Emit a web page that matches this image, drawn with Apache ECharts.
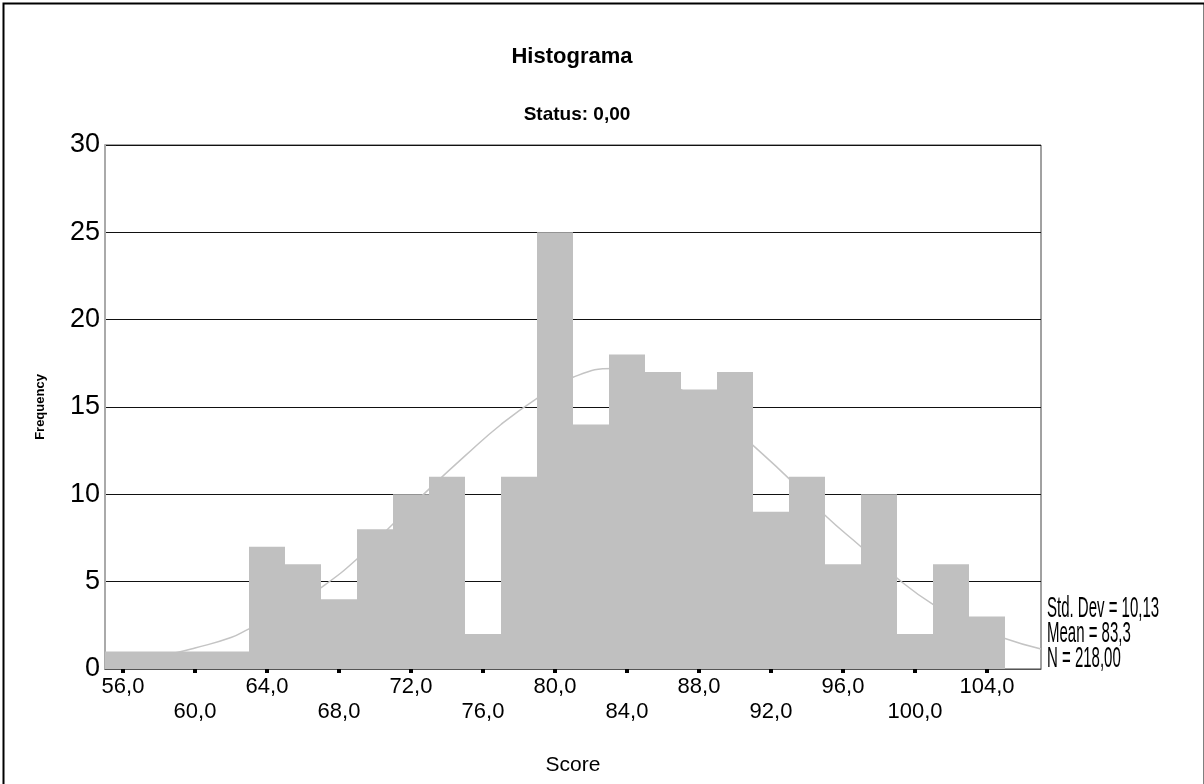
<!DOCTYPE html>
<html>
<head>
<meta charset="utf-8">
<script src="https://cdn.jsdelivr.net/npm/echarts@6/dist/echarts.min.js"></script>
<style>
html,body{margin:0;padding:0;background:#fff;}
#chart{width:1204px;height:784px;}
</style>
</head>
<body>
<div id="chart"></div>
<script>
// ---- data ----
const binCenters = [56,58,60,62,64,66,68,70,72,74,76,78,80,82,84,86,88,90,92,94,96,98,100,102,104,106];
const binCounts  = [1,1,1,1,7,6,4,8,10,11,2,11,25,14,18,17,16,17,9,11,6,10,2,6,3,0];
const binWidth = 2;
const curveX = [55,57,59,60,62,63,65,67.2,69,71,73,75,77,79,81,83.3,85,87,89,91,93,95,97,99,101,103,105,107];
const curveY = [0.35,0.6,0.95,1.2,1.8,2.3,3.3,4.8,6.3,8.3,10.3,12.2,14.0,15.5,16.7,17.2,16.9,16.0,14.6,12.8,10.9,8.8,7.0,5.2,3.7,2.6,1.75,1.15];
const xTickValues = [56,60,64,68,72,76,80,84,88,92,96,100,104];
const titleText = 'Histograma';
const subtitleText = 'Status: 0,00';
const xName = 'Score';
const yName = 'Frequency';
const statLines = ['Std. Dev = 10,13', 'Mean = 83,3', 'N = 218,00'];

const FONT = '"Liberation Sans", Arial, sans-serif';
const chart = echarts.init(document.getElementById('chart'), null, {renderer: 'canvas'});

const histData = binCenters.map((c, i) => [c, binCounts[i]]);
const curveData = curveX.map((x, i) => [x, curveY[i]]);

chart.setOption({
  animation: false,
  backgroundColor: '#fff',
  title: [
    {text: titleText, left: 567, top: 41, textAlign: 'center',
     textStyle: {fontFamily: FONT, fontSize: 22, fontWeight: 'bold', color: '#000'}},
    {text: subtitleText, left: 572, top: 100, textAlign: 'center',
     textStyle: {fontFamily: FONT, fontSize: 19, fontWeight: 'bold', color: '#000'}}
  ],
  grid: {left: 105, right: 163, top: 145, bottom: 115, show: true, borderColor: '#444', borderWidth: 1, backgroundColor: 'transparent'},
  xAxis: {
    type: 'value', min: 55, max: 107,
    name: xName, nameLocation: 'middle', nameGap: 86,
    nameTextStyle: {fontFamily: FONT, fontSize: 21, color: '#000'},
    axisLine: {show: true, onZero: false, lineStyle: {color: '#555', width: 1}},
    axisTick: {show: true, customValues: xTickValues, length: 4, lineStyle: {color: '#000', width: 4}},
    splitLine: {show: false},
    axisLabel: {
      customValues: xTickValues, margin: 5,
      fontFamily: FONT, fontSize: 22, color: '#000', lineHeight: 25,
      formatter: function (v) {
        const s = v.toFixed(1).replace('.', ',');
        const idx = Math.round((v - 56) / 4);
        return idx % 2 === 1 ? '\n' + s : s;
      }
    }
  },
  yAxis: {
    type: 'value', min: 0, max: 30, interval: 5,
    name: yName, nameLocation: 'middle', nameGap: 58, nameRotate: 90,
    nameTextStyle: {fontFamily: FONT, fontSize: 13, fontWeight: 'bold', color: '#000'},
    axisLine: {show: true, lineStyle: {color: '#aaa', width: 2}},
    axisTick: {show: false},
    axisLabel: {fontFamily: FONT, fontSize: 27, color: '#000', margin: 5},
    splitLine: {show: true, lineStyle: {color: '#111', width: 1}}
  },
  series: [
    {
      type: 'line', data: curveData, smooth: true, showSymbol: false, z: 1,
      lineStyle: {color: '#c4c4c4', width: 1.5}, silent: true
    },
    {
      type: 'custom', z: 2, data: histData,
      renderItem: function (params, api) {
        const c = api.value(0), h = api.value(1);
        const p0 = api.coord([c - binWidth / 2, h]);
        const p1 = api.coord([c + binWidth / 2, 0]);
        return {
          type: 'rect',
          shape: {x: p0[0], y: p0[1], width: p1[0] - p0[0], height: p1[1] - p0[1]},
          style: {fill: '#c0c0c0'}
        };
      }
    }
  ],
  graphic: [
    {type: 'rect', left: 1, top: 1, shape: {width: 1201, height: 800}, style: {fill: 'none', stroke: '#000', lineWidth: 2}, silent: true},
    {type: 'group', x: 1047, y: 594, scaleX: 0.5, children: statLines.map((t, i) => ({
      type: 'text', x: 0, y: i * 25,
      style: {text: t, font: '30px ' + FONT, fill: '#000'}
    }))}
  ]
});
</script>
</body>
</html>
